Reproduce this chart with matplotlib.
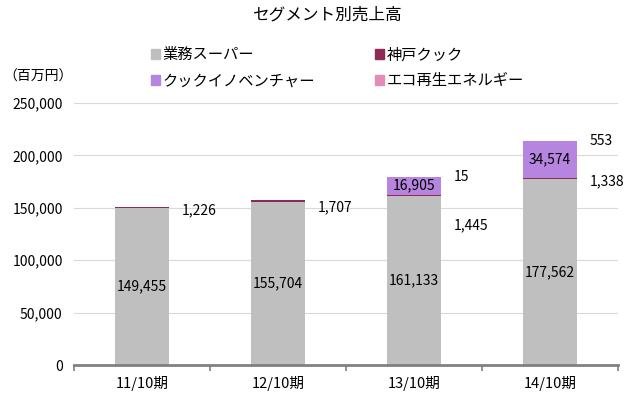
import matplotlib
matplotlib.use('Agg')
import matplotlib.pyplot as plt
import numpy as np
from matplotlib.patches import Patch

plt.rcParams['font.family'] = ['Noto Sans CJK JP', 'DejaVu Sans']

# data (百万円)
periods = ["11/10期", "12/10期", "13/10期", "14/10期"]
gyomu = [149455, 155704, 161133, 177562]
kobe = [1226, 1707, 1445, 1338]
innov = [0, 0, 16905, 34574]
eco = [0, 0, 15, 553]
names = ["業務スーパー", "神戸クック", "クックイノベンチャー", "エコ再生エネルギー"]
colors = ["#bfbfbf", "#8e2a55", "#b585e0", "#e68ab8"]

fig = plt.figure(figsize=(6.25, 3.97), dpi=100)
ax = fig.add_axes([0.118, 0.0806, 0.871, 0.66])

x = np.arange(len(periods))
w = 0.4
b1 = np.array(gyomu)
b2 = b1 + np.array(kobe)
b3 = b2 + np.array(innov)
ax.bar(x, gyomu, w, color=colors[0], zorder=2)
ax.bar(x, kobe, w, bottom=b1, color=colors[1], zorder=2)
ax.bar(x, innov, w, bottom=b2, color=colors[2], zorder=2)
ax.bar(x, eco, w, bottom=b3, color=colors[3], zorder=2)

fs = 10
# values inside bars
for i in range(len(x)):
    ax.text(x[i], gyomu[i] / 2, f"{gyomu[i]:,}", ha="center", va="center", fontsize=fs, zorder=3)
    if innov[i] > 0:
        ax.text(x[i], b2[i] + innov[i] / 2, f"{innov[i]:,}", ha="center", va="center", fontsize=fs, zorder=3)

# small segments labelled beside the bar
kobe_off = [-2, -5, -22, -3]
for i in range(len(x)):
    ax.annotate(f"{kobe[i]:,}", (x[i] + 0.29, b2[i]), xytext=(0, kobe_off[i]),
                textcoords="offset points", ha="left", va="center", fontsize=fs)
    if eco[i] > 0:
        ax.annotate(f"{eco[i]:,}", (x[i] + 0.29, b3[i] + eco[i]), xytext=(0, 0),
                    textcoords="offset points", ha="left", va="center", fontsize=fs)

ax.set_xlim(-0.5, 3.5)
ax.set_ylim(0, 250000)
ax.set_yticks(range(0, 250001, 50000))
ax.set_yticklabels([f"{v:,}" for v in range(0, 250001, 50000)], fontsize=10)
ax.set_xticks(x)
ax.set_xticklabels(periods, fontsize=10.5)
ax.set_xticks([-0.5, 0.5, 1.5, 2.5, 3.5], minor=True)
ax.tick_params(length=0, pad=8)
ax.tick_params(axis="x", which="minor", length=4, color="#808080", width=1.2)
ax.grid(axis="y", color="#d9d9d9", lw=0.8, zorder=0)
for s in ["top", "right", "left"]:
    ax.spines[s].set_visible(False)
ax.spines["bottom"].set_color("#808080")
ax.spines["bottom"].set_linewidth(2)
ax.spines["bottom"].set_zorder(4)

fig.text(0.525, 0.962, "セグメント別売上高", ha="center", va="center", fontsize=12)
fig.text(0.005, 0.806, "（百万円）", ha="left", va="center", fontsize=10)

handles = [Patch(color=c) for c in colors]
order = [0, 2, 1, 3]
fig.legend([handles[k] for k in order], [names[k] for k in order], ncol=2,
           loc="center left", bbox_to_anchor=(0.241, 0.829), frameon=False,
           fontsize=11, handlelength=0.6, handleheight=0.6, handletextpad=0.2,
           columnspacing=3.9, labelspacing=0.6, borderpad=0, borderaxespad=0)

fig.savefig("out.png", dpi=100)
